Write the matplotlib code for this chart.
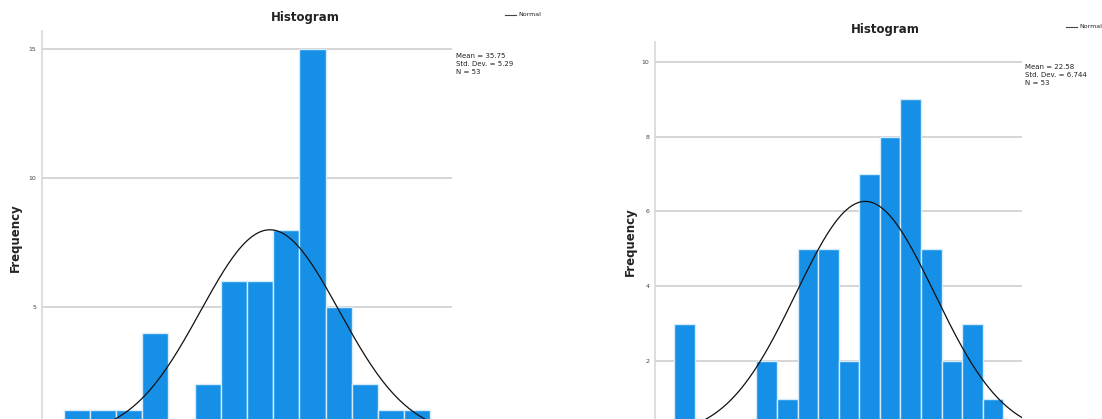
import numpy as np
import matplotlib
matplotlib.use("Agg")
import matplotlib.pyplot as plt
from matplotlib.lines import Line2D

W, H = 1102, 419

# left histogram
left_bin_start = 20
left_bin_width = 2
left_counts = [1, 1, 1, 4, 0, 2, 6, 6, 8, 15, 5, 2, 1, 1]
left_mean, left_sd, left_n = 35.75, 5.29, 53
left_ticks = [5, 10, 15]
left_stats = ["Mean = 35.75", "Std. Dev. = 5.29", "N = 53"]

# right histogram
right_bin_start = 4
right_bin_width = 2
right_counts = [3, 0, 0, 0, 2, 1, 5, 5, 2, 7, 8, 9, 5, 2, 3, 1]
right_mean, right_sd, right_n = 22.58, 6.744, 53
right_ticks = [2, 4, 6, 8, 10]
right_stats = ["Mean = 22.58", "Std. Dev. = 6.744", "N = 53"]

BAR = "#1590e6"
EDGE = "#d6ecfc"
GRID = "#d2d2d2"
NARROW = ["DejaVu Sans Condensed", "DejaVu Sans"]


def fx(px):
    return px / W


def fy(py):
    return (H - py) / H


def draw_hist(fig, rect, start, width, counts, mean, sd, n, ticks, xlim, ytop):
    ax = fig.add_axes(rect)
    edges = start + width * np.arange(len(counts))
    ax.bar(edges, counts, width=width, align="edge", color=BAR,
           edgecolor=EDGE, linewidth=1.0, zorder=2)
    xs = np.linspace(xlim[0], xlim[1], 400)
    ys = n * width / (sd * np.sqrt(2 * np.pi)) * np.exp(-0.5 * ((xs - mean) / sd) ** 2)
    ax.plot(xs, ys, color="#111111", linewidth=0.9, zorder=3)
    ax.set_xlim(*xlim)
    ax.set_ylim(0, ytop)
    ax.set_yticks(ticks)
    ax.set_yticklabels([str(t) for t in ticks], fontsize=4.5, color="#444444",
                       family=NARROW)
    ax.set_xticks([])
    ax.tick_params(axis="y", length=0, pad=4)
    ax.yaxis.grid(True, color=GRID, linewidth=1.3, zorder=1)
    ax.set_axisbelow(True)
    for s in ["top", "right", "bottom"]:
        ax.spines[s].set_visible(False)
    ax.spines["left"].set_color("#d8d8d8")
    ax.spines["left"].set_linewidth(1.2)
    return ax


fig = plt.figure(figsize=(W / 100, H / 100), dpi=100)

draw_hist(fig, [fx(42), fy(436), fx(452) - fx(42), fy(31) - fy(436)],
          left_bin_start, left_bin_width, left_counts, left_mean, left_sd,
          left_n, left_ticks, (18.35, 49.65), 15.7)
draw_hist(fig, [fx(655), fy(436), fx(1022) - fx(655), fy(42) - fy(436)],
          right_bin_start, right_bin_width, right_counts, right_mean, right_sd,
          right_n, right_ticks, (2.16, 37.8), 10.53)

# titles
fig.text(fx(305), fy(17), "Histogram", ha="center", va="center",
         fontsize=8.5, family=NARROW, fontweight="bold", color="#222222")
fig.text(fx(885), fy(29), "Histogram", ha="center", va="center",
         fontsize=8.5, family=NARROW, fontweight="bold", color="#222222")

# y labels
fig.text(fx(15), fy(238), "Frequency", rotation=90, ha="center", va="center",
         fontsize=8.5, fontweight="bold", color="#222222")
fig.text(fx(630), fy(242), "Frequency", rotation=90, ha="center", va="center",
         fontsize=8.5, fontweight="bold", color="#222222")

# legends
for x0, y0 in [(505, 15), (1066, 27)]:
    fig.add_artist(Line2D([fx(x0), fx(x0 + 11)], [fy(y0), fy(y0)],
                          color="#444444", linewidth=0.8))
    fig.text(fx(x0 + 13), fy(y0), "Normal", ha="left", va="center",
             fontsize=4.5, family=NARROW, color="#222222")

# stats boxes
for x0, y0, lines in [(456, 56, left_stats), (1025, 67, right_stats)]:
    for i, t in enumerate(lines):
        fig.text(fx(x0), fy(y0 + i * 8), t, ha="left", va="center",
                 fontsize=5, family=NARROW, color="#222222")

fig.savefig("out.png", dpi=100)
